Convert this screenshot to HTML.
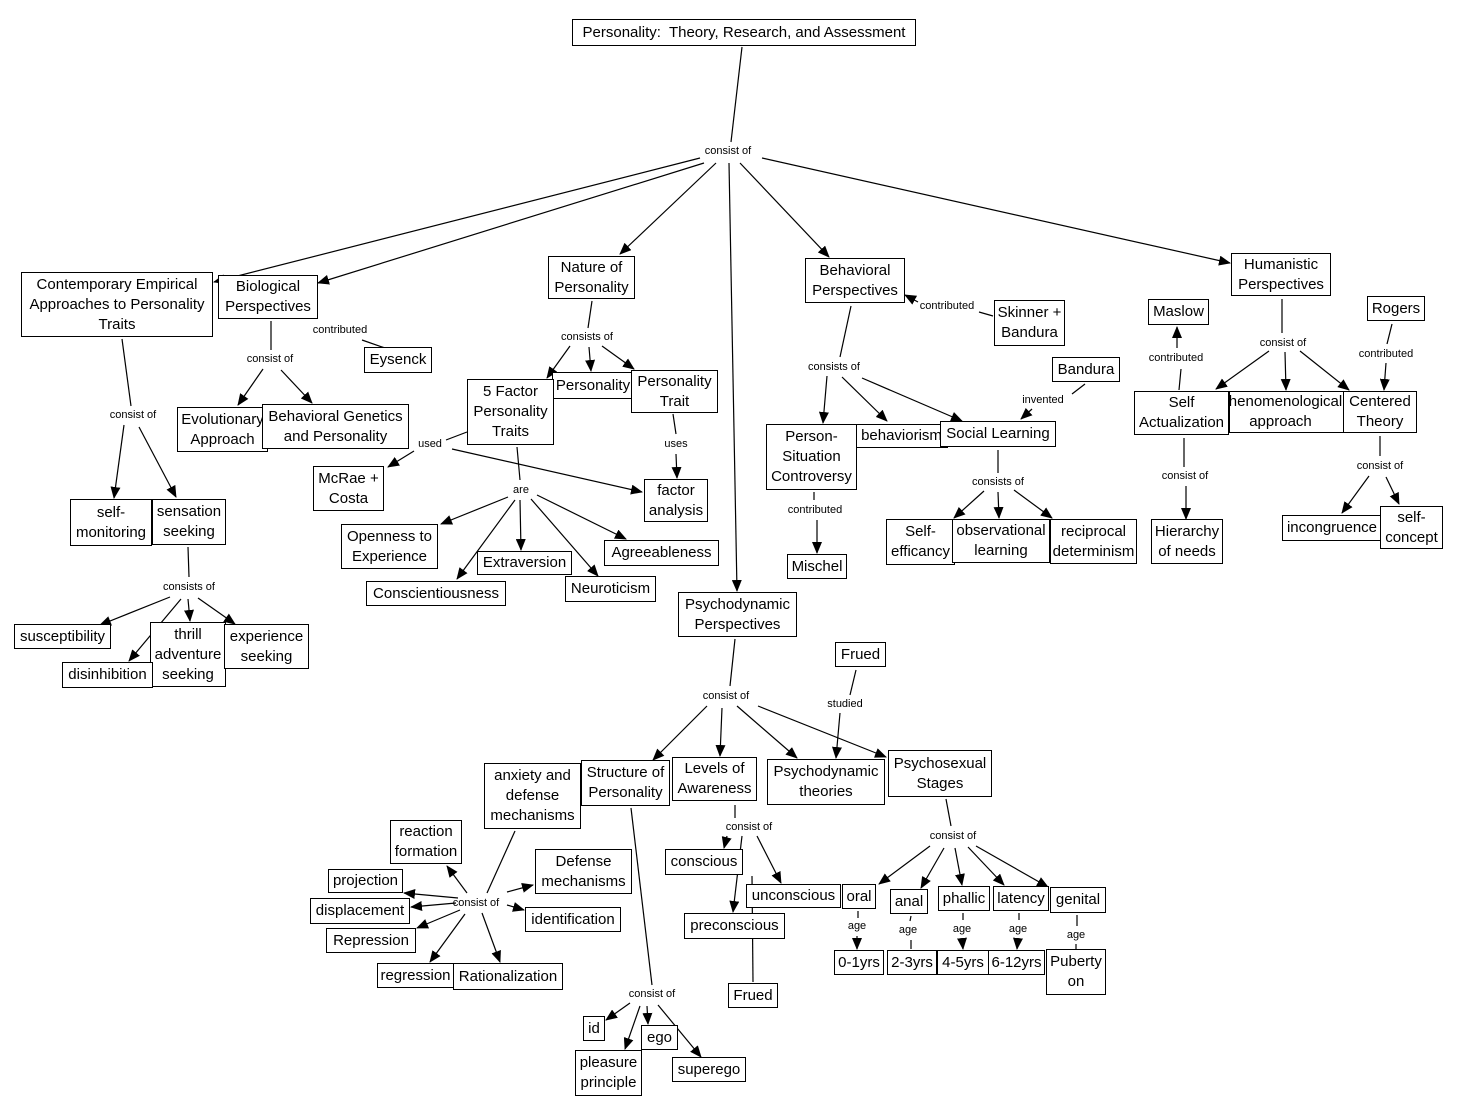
<!DOCTYPE html>
<html><head><meta charset="utf-8"><style>
body{margin:0;width:1460px;height:1116px;background:#fff;position:relative;overflow:hidden;font-family:"Liberation Sans",Arial,sans-serif;}
svg{position:absolute;left:0;top:0}
.b{position:absolute;box-sizing:border-box;border:1px solid #000;background:#fff;display:flex;align-items:center;justify-content:center;text-align:center;font-size:15px;line-height:20px;white-space:nowrap;overflow:hidden;color:#000}
.l{position:absolute;transform:translate(-50%,-50%);font-size:11px;white-space:nowrap;color:#000}
</style></head><body>
<svg width="1460" height="1116" viewBox="0 0 1460 1116">
<defs><marker id="a" markerWidth="12" markerHeight="10" refX="11" refY="5" orient="auto" markerUnits="userSpaceOnUse"><path d="M0,0 L12,5 L0,10 z" fill="#000"/></marker></defs>
<g stroke="#000" stroke-width="1.2" fill="none">
<line x1="742" y1="47" x2="731" y2="142"/>
<line x1="700" y1="158" x2="214" y2="282" marker-end="url(#a)"/>
<line x1="704" y1="163" x2="318" y2="283" marker-end="url(#a)"/>
<line x1="716" y1="163" x2="620" y2="254" marker-end="url(#a)"/>
<line x1="729" y1="163" x2="737" y2="591" marker-end="url(#a)"/>
<line x1="740" y1="163" x2="829" y2="257" marker-end="url(#a)"/>
<line x1="762" y1="158" x2="1230" y2="263" marker-end="url(#a)"/>
<line x1="122" y1="339" x2="131" y2="406"/>
<line x1="124" y1="425" x2="114" y2="498" marker-end="url(#a)"/>
<line x1="139" y1="427" x2="176" y2="497" marker-end="url(#a)"/>
<line x1="271" y1="321" x2="271" y2="350"/>
<line x1="263" y1="369" x2="238" y2="405" marker-end="url(#a)"/>
<line x1="281" y1="370" x2="312" y2="403" marker-end="url(#a)"/>
<line x1="362" y1="340" x2="385" y2="348"/>
<line x1="592" y1="301" x2="588" y2="328"/>
<line x1="570" y1="346" x2="547" y2="378" marker-end="url(#a)"/>
<line x1="589" y1="347" x2="591" y2="371" marker-end="url(#a)"/>
<line x1="602" y1="346" x2="634" y2="369" marker-end="url(#a)"/>
<line x1="467" y1="432" x2="446" y2="440"/>
<line x1="414" y1="451" x2="388" y2="467" marker-end="url(#a)"/>
<line x1="452" y1="449" x2="642" y2="492" marker-end="url(#a)"/>
<line x1="673" y1="414" x2="676" y2="434"/>
<line x1="676" y1="454" x2="677" y2="478" marker-end="url(#a)"/>
<line x1="517" y1="447" x2="520" y2="480"/>
<line x1="508" y1="497" x2="441" y2="524" marker-end="url(#a)"/>
<line x1="515" y1="500" x2="457" y2="579" marker-end="url(#a)"/>
<line x1="520" y1="500" x2="521" y2="550" marker-end="url(#a)"/>
<line x1="531" y1="499" x2="598" y2="576" marker-end="url(#a)"/>
<line x1="537" y1="495" x2="626" y2="539" marker-end="url(#a)"/>
<line x1="851" y1="306" x2="840" y2="357"/>
<line x1="827" y1="376" x2="823" y2="423" marker-end="url(#a)"/>
<line x1="842" y1="377" x2="887" y2="421" marker-end="url(#a)"/>
<line x1="862" y1="378" x2="962" y2="421" marker-end="url(#a)"/>
<line x1="993" y1="316" x2="979" y2="312"/>
<line x1="918" y1="302" x2="905" y2="295" marker-end="url(#a)"/>
<line x1="1085" y1="384" x2="1072" y2="394"/>
<line x1="1032" y1="409" x2="1021" y2="419" marker-end="url(#a)"/>
<line x1="998" y1="450" x2="998" y2="473"/>
<line x1="984" y1="491" x2="954" y2="518" marker-end="url(#a)"/>
<line x1="998" y1="492" x2="999" y2="518" marker-end="url(#a)"/>
<line x1="1014" y1="490" x2="1052" y2="518" marker-end="url(#a)"/>
<line x1="814" y1="492" x2="814" y2="500"/>
<line x1="817" y1="520" x2="817" y2="553" marker-end="url(#a)"/>
<line x1="1282" y1="299" x2="1282" y2="333"/>
<line x1="1269" y1="351" x2="1216" y2="389" marker-end="url(#a)"/>
<line x1="1285" y1="352" x2="1286" y2="390" marker-end="url(#a)"/>
<line x1="1300" y1="351" x2="1349" y2="390" marker-end="url(#a)"/>
<line x1="1177" y1="348" x2="1177" y2="327" marker-end="url(#a)"/>
<line x1="1181" y1="369" x2="1179" y2="390"/>
<line x1="1392" y1="324" x2="1387" y2="344"/>
<line x1="1386" y1="363" x2="1384" y2="390" marker-end="url(#a)"/>
<line x1="1184" y1="438" x2="1184" y2="467"/>
<line x1="1186" y1="486" x2="1186" y2="519" marker-end="url(#a)"/>
<line x1="1380" y1="436" x2="1380" y2="456"/>
<line x1="1369" y1="476" x2="1342" y2="513" marker-end="url(#a)"/>
<line x1="1386" y1="477" x2="1399" y2="504" marker-end="url(#a)"/>
<line x1="188" y1="547" x2="189" y2="577"/>
<line x1="170" y1="597" x2="100" y2="625" marker-end="url(#a)"/>
<line x1="181" y1="599" x2="129" y2="661" marker-end="url(#a)"/>
<line x1="188" y1="599" x2="190" y2="621" marker-end="url(#a)"/>
<line x1="198" y1="598" x2="235" y2="624" marker-end="url(#a)"/>
<line x1="735" y1="639" x2="730" y2="686"/>
<line x1="707" y1="706" x2="653" y2="760" marker-end="url(#a)"/>
<line x1="722" y1="708" x2="720" y2="756" marker-end="url(#a)"/>
<line x1="737" y1="706" x2="797" y2="758" marker-end="url(#a)"/>
<line x1="758" y1="706" x2="886" y2="757" marker-end="url(#a)"/>
<line x1="856" y1="670" x2="850" y2="695"/>
<line x1="840" y1="713" x2="836" y2="758" marker-end="url(#a)"/>
<line x1="631" y1="808" x2="652" y2="985"/>
<line x1="515" y1="831" x2="487" y2="893"/>
<line x1="467" y1="893" x2="447" y2="866" marker-end="url(#a)"/>
<line x1="458" y1="898" x2="404" y2="893" marker-end="url(#a)"/>
<line x1="456" y1="903" x2="411" y2="907" marker-end="url(#a)"/>
<line x1="460" y1="910" x2="417" y2="928" marker-end="url(#a)"/>
<line x1="465" y1="914" x2="430" y2="962" marker-end="url(#a)"/>
<line x1="482" y1="913" x2="500" y2="962" marker-end="url(#a)"/>
<line x1="507" y1="905" x2="524" y2="910" marker-end="url(#a)"/>
<line x1="507" y1="892" x2="533" y2="885" marker-end="url(#a)"/>
<line x1="735" y1="805" x2="735" y2="818"/>
<line x1="727" y1="836" x2="724" y2="848" marker-end="url(#a)"/>
<line x1="742" y1="836" x2="733" y2="912" marker-end="url(#a)"/>
<line x1="757" y1="836" x2="781" y2="883" marker-end="url(#a)"/>
<line x1="752" y1="876" x2="753" y2="982"/>
<line x1="946" y1="799" x2="951" y2="826"/>
<line x1="930" y1="846" x2="879" y2="884" marker-end="url(#a)"/>
<line x1="944" y1="848" x2="921" y2="888" marker-end="url(#a)"/>
<line x1="955" y1="848" x2="962" y2="885" marker-end="url(#a)"/>
<line x1="968" y1="847" x2="1004" y2="885" marker-end="url(#a)"/>
<line x1="976" y1="846" x2="1048" y2="887" marker-end="url(#a)"/>
<line x1="858" y1="911" x2="858" y2="918"/>
<line x1="857" y1="936" x2="857" y2="949" marker-end="url(#a)"/>
<line x1="911" y1="916" x2="910" y2="921"/>
<line x1="911" y1="940" x2="911" y2="949"/>
<line x1="963" y1="913" x2="963" y2="920"/>
<line x1="962" y1="938" x2="963" y2="949" marker-end="url(#a)"/>
<line x1="1019" y1="913" x2="1019" y2="920"/>
<line x1="1018" y1="938" x2="1017" y2="949" marker-end="url(#a)"/>
<line x1="1077" y1="915" x2="1077" y2="926"/>
<line x1="1076" y1="944" x2="1076" y2="950"/>
<line x1="630" y1="1003" x2="606" y2="1020" marker-end="url(#a)"/>
<line x1="640" y1="1006" x2="625" y2="1049" marker-end="url(#a)"/>
<line x1="647" y1="1006" x2="648" y2="1024" marker-end="url(#a)"/>
<line x1="658" y1="1005" x2="701" y2="1057" marker-end="url(#a)"/>
</g></svg>

<div class="b" style="left:572px;top:19px;width:344px;height:27px">Personality:&nbsp; Theory, Research, and Assessment</div>
<div class="b" style="left:21px;top:272px;width:192px;height:65px">Contemporary Empirical<br>Approaches to Personality<br>Traits</div>
<div class="b" style="left:218px;top:275px;width:100px;height:44px">Biological<br>Perspectives</div>
<div class="b" style="left:548px;top:256px;width:87px;height:43px">Nature of<br>Personality</div>
<div class="b" style="left:805px;top:258px;width:100px;height:45px">Behavioral<br>Perspectives</div>
<div class="b" style="left:1231px;top:253px;width:100px;height:43px">Humanistic<br>Perspectives</div>
<div class="b" style="left:364px;top:347px;width:68px;height:26px">Eysenck</div>
<div class="b" style="left:994px;top:300px;width:71px;height:46px">Skinner +<br>Bandura</div>
<div class="b" style="left:1148px;top:299px;width:61px;height:26px">Maslow</div>
<div class="b" style="left:1367px;top:296px;width:58px;height:25px">Rogers</div>
<div class="b" style="left:1052px;top:357px;width:68px;height:25px">Bandura</div>
<div class="b" style="left:177px;top:407px;width:91px;height:45px">Evolutionary<br>Approach</div>
<div class="b" style="left:262px;top:404px;width:147px;height:45px">Behavioral Genetics<br>and Personality</div>
<div class="b" style="left:552px;top:372px;width:82px;height:27px">Personality</div>
<div class="b" style="left:467px;top:379px;width:87px;height:66px">5 Factor<br>Personality<br>Traits</div>
<div class="b" style="left:631px;top:370px;width:87px;height:43px">Personality<br>Trait</div>
<div class="b" style="left:1134px;top:391px;width:95px;height:44px">Self<br>Actualization</div>
<div class="b" style="left:1229px;top:391px;width:115px;height:42px"><span style="margin-left:-12px">Phenomenological<br>approach</span></div>
<div class="b" style="left:1343px;top:391px;width:74px;height:42px">Centered<br>Theory</div>
<div class="b" style="left:855px;top:424px;width:93px;height:24px">behaviorism</div>
<div class="b" style="left:766px;top:424px;width:91px;height:66px">Person-<br>Situation<br>Controversy</div>
<div class="b" style="left:940px;top:421px;width:116px;height:26px">Social Learning</div>
<div class="b" style="left:313px;top:466px;width:71px;height:45px">McRae +<br>Costa</div>
<div class="b" style="left:644px;top:479px;width:64px;height:43px">factor<br>analysis</div>
<div class="b" style="left:70px;top:499px;width:82px;height:47px">self-<br>monitoring</div>
<div class="b" style="left:152px;top:499px;width:74px;height:46px">sensation<br>seeking</div>
<div class="b" style="left:341px;top:524px;width:97px;height:45px">Openness to<br>Experience</div>
<div class="b" style="left:477px;top:551px;width:95px;height:24px">Extraversion</div>
<div class="b" style="left:604px;top:540px;width:115px;height:26px">Agreeableness</div>
<div class="b" style="left:366px;top:581px;width:140px;height:25px">Conscientiousness</div>
<div class="b" style="left:565px;top:576px;width:91px;height:26px">Neuroticism</div>
<div class="b" style="left:886px;top:519px;width:69px;height:46px">Self-<br>efficancy</div>
<div class="b" style="left:952px;top:519px;width:98px;height:44px">observational<br>learning</div>
<div class="b" style="left:1050px;top:519px;width:87px;height:45px">reciprocal<br>determinism</div>
<div class="b" style="left:1151px;top:519px;width:72px;height:45px">Hierarchy<br>of needs</div>
<div class="b" style="left:1282px;top:515px;width:100px;height:26px">incongruence</div>
<div class="b" style="left:1380px;top:506px;width:63px;height:43px">self-<br>concept</div>
<div class="b" style="left:787px;top:554px;width:60px;height:25px">Mischel</div>
<div class="b" style="left:678px;top:592px;width:119px;height:45px">Psychodynamic<br>Perspectives</div>
<div class="b" style="left:14px;top:624px;width:97px;height:25px">susceptibility</div>
<div class="b" style="left:150px;top:622px;width:76px;height:65px">thrill<br>adventure<br>seeking</div>
<div class="b" style="left:224px;top:624px;width:85px;height:45px">experience<br>seeking</div>
<div class="b" style="left:62px;top:662px;width:91px;height:26px">disinhibition</div>
<div class="b" style="left:835px;top:642px;width:51px;height:25px">Frued</div>
<div class="b" style="left:484px;top:763px;width:97px;height:66px">anxiety and<br>defense<br>mechanisms</div>
<div class="b" style="left:581px;top:760px;width:89px;height:46px">Structure of<br>Personality</div>
<div class="b" style="left:672px;top:757px;width:85px;height:44px">Levels of<br>Awareness</div>
<div class="b" style="left:767px;top:759px;width:118px;height:46px">Psychodynamic<br>theories</div>
<div class="b" style="left:888px;top:750px;width:104px;height:47px">Psychosexual<br>Stages</div>
<div class="b" style="left:390px;top:820px;width:72px;height:44px">reaction<br>formation</div>
<div class="b" style="left:535px;top:849px;width:97px;height:45px">Defense<br>mechanisms</div>
<div class="b" style="left:328px;top:869px;width:75px;height:24px">projection</div>
<div class="b" style="left:310px;top:898px;width:100px;height:26px">displacement</div>
<div class="b" style="left:525px;top:907px;width:96px;height:25px">identification</div>
<div class="b" style="left:326px;top:928px;width:90px;height:25px">Repression</div>
<div class="b" style="left:377px;top:963px;width:77px;height:25px">regression</div>
<div class="b" style="left:453px;top:963px;width:110px;height:27px">Rationalization</div>
<div class="b" style="left:665px;top:849px;width:78px;height:26px">conscious</div>
<div class="b" style="left:746px;top:884px;width:95px;height:24px">unconscious</div>
<div class="b" style="left:842px;top:884px;width:34px;height:25px">oral</div>
<div class="b" style="left:684px;top:913px;width:101px;height:26px">preconscious</div>
<div class="b" style="left:890px;top:889px;width:38px;height:25px">anal</div>
<div class="b" style="left:938px;top:886px;width:52px;height:25px">phallic</div>
<div class="b" style="left:993px;top:886px;width:56px;height:25px">latency</div>
<div class="b" style="left:1050px;top:887px;width:56px;height:26px">genital</div>
<div class="b" style="left:728px;top:983px;width:50px;height:25px">Frued</div>
<div class="b" style="left:834px;top:950px;width:50px;height:25px">0-1yrs</div>
<div class="b" style="left:887px;top:950px;width:50px;height:25px">2-3yrs</div>
<div class="b" style="left:937px;top:950px;width:52px;height:25px">4-5yrs</div>
<div class="b" style="left:988px;top:950px;width:57px;height:25px">6-12yrs</div>
<div class="b" style="left:1046px;top:949px;width:60px;height:46px">Puberty<br>on</div>
<div class="b" style="left:583px;top:1016px;width:22px;height:25px">id</div>
<div class="b" style="left:641px;top:1025px;width:37px;height:25px">ego</div>
<div class="b" style="left:575px;top:1050px;width:67px;height:46px">pleasure<br>principle</div>
<div class="b" style="left:672px;top:1057px;width:74px;height:25px">superego</div>

<span class="l" style="left:728px;top:151px">consist of</span>
<span class="l" style="left:340px;top:330px">contributed</span>
<span class="l" style="left:270px;top:359px">consist of</span>
<span class="l" style="left:587px;top:337px">consists of</span>
<span class="l" style="left:947px;top:306px">contributed</span>
<span class="l" style="left:1283px;top:343px">consist of</span>
<span class="l" style="left:1176px;top:358px">contributed</span>
<span class="l" style="left:1386px;top:354px">contributed</span>
<span class="l" style="left:133px;top:415px">consist of</span>
<span class="l" style="left:430px;top:444px">used</span>
<span class="l" style="left:676px;top:444px">uses</span>
<span class="l" style="left:521px;top:490px">are</span>
<span class="l" style="left:834px;top:367px">consists of</span>
<span class="l" style="left:1043px;top:400px">invented</span>
<span class="l" style="left:1185px;top:476px">consist of</span>
<span class="l" style="left:1380px;top:466px">consist of</span>
<span class="l" style="left:998px;top:482px">consists of</span>
<span class="l" style="left:815px;top:510px">contributed</span>
<span class="l" style="left:189px;top:587px">consists of</span>
<span class="l" style="left:726px;top:696px">consist of</span>
<span class="l" style="left:845px;top:704px">studied</span>
<span class="l" style="left:749px;top:827px">consist of</span>
<span class="l" style="left:953px;top:836px">consist of</span>
<span class="l" style="left:476px;top:903px">consist of</span>
<span class="l" style="left:857px;top:926px">age</span>
<span class="l" style="left:908px;top:930px">age</span>
<span class="l" style="left:962px;top:929px">age</span>
<span class="l" style="left:1018px;top:929px">age</span>
<span class="l" style="left:1076px;top:935px">age</span>
<span class="l" style="left:652px;top:994px">consist of</span>
</body></html>
